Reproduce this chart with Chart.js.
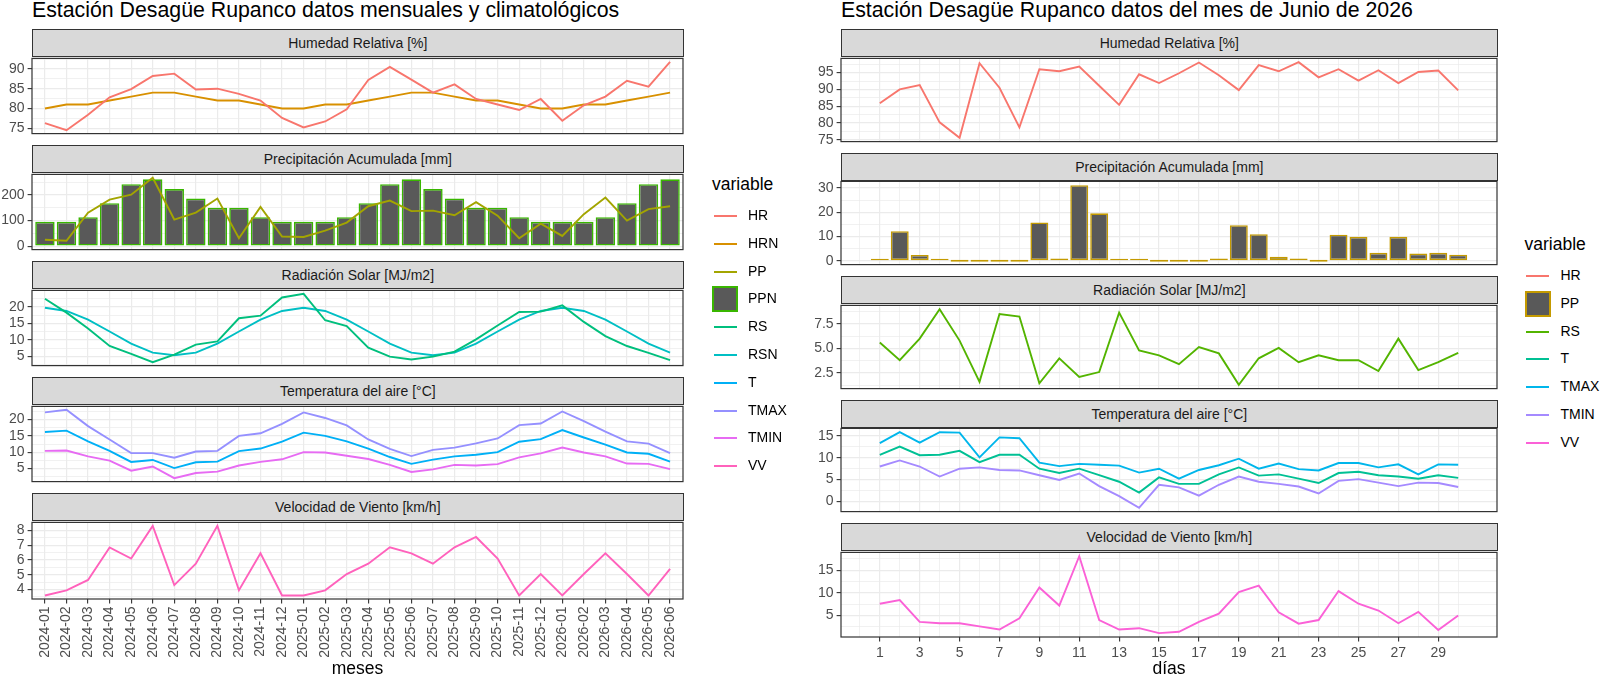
<!DOCTYPE html>
<html><head><meta charset="utf-8">
<script src="https://cdn.jsdelivr.net/npm/chart.js@4/dist/chart.umd.min.js"></script>
<style>
html,body{margin:0;padding:0;background:#fff;}
body{width:1600px;height:676px;overflow:hidden;position:relative;font-family:"Liberation Sans",Arial,Helvetica,sans-serif;}
canvas{position:absolute;}
.strip{position:absolute;background:#D9D9D9;border:1.2px solid #333;box-sizing:border-box;color:#1A1A1A;font-size:14px;display:flex;align-items:center;justify-content:center;z-index:2;white-space:nowrap;}
.txt{position:absolute;white-space:nowrap;z-index:3;}
.key{position:absolute;z-index:3;}
</style></head>
<body>
<script>
// ---------------- DATA ----------------
const meses = ['2024-01','2024-02','2024-03','2024-04','2024-05','2024-06','2024-07','2024-08','2024-09','2024-10','2024-11','2024-12',
               '2025-01','2025-02','2025-03','2025-04','2025-05','2025-06','2025-07','2025-08','2025-09','2025-10','2025-11','2025-12',
               '2026-01','2026-02','2026-03','2026-04','2026-05','2026-06'];
const HR_m   = [76.3,74.5,78.4,82.8,84.9,88.2,88.8,84.8,85.0,83.7,82.0,77.6,75.2,76.7,79.8,87.2,90.5,87.3,84.0,86.1,82.4,81.0,79.6,82.4,76.9,80.8,83.0,87.0,85.5,91.8];
const HRN_m  = [80,81,81,82,83,84,84,83,82,82,81,80,80,81,81,82,83,84,84,83,82,82,81,80,80,81,81,82,83,84];
const PP_m   = [25,21,131,182,201,267,104,131,186,31,153,38,36,61,92,156,178,137,139,121,172,119,31,88,40,125,190,100,145,156];
const PPN_m  = [95,95,113,168,242,261,223,186,150,150,113,95,95,95,113,168,242,261,223,186,150,150,113,95,95,95,113,168,242,261];
const RS_m   = [22.5,18.3,13.5,8.2,5.8,3.3,5.6,8.6,9.6,16.6,17.4,22.9,24.0,16.0,14.2,7.7,5.0,4.1,5.0,6.5,10.2,14.4,18.5,18.6,20.5,15.5,11.2,8.2,6.1,3.9];
const RSN_m  = [19.8,18.8,16.2,12.6,8.9,6.2,5.4,6.2,8.9,12.6,16.2,18.8,19.8,18.8,16.2,12.6,8.9,6.2,5.4,6.2,8.9,12.6,16.2,18.8,19.8,18.8,16.2,12.6,8.9,6.2];
const T_m    = [16.2,16.6,13.3,10.4,7.0,7.6,5.1,6.9,7.1,10.3,11.1,13.2,16.0,15.0,13.3,11.1,8.5,6.4,7.7,8.7,9.2,10.0,13.2,14.0,16.8,14.5,12.3,9.9,9.5,7.1];
const TMAX_m = [22.2,23.0,18.0,13.9,9.7,9.7,8.3,10.2,10.4,15.0,15.8,18.7,22.2,20.5,18.2,13.9,11.0,8.8,10.7,11.4,12.7,14.2,18.3,18.8,22.5,19.5,16.3,13.3,12.6,9.7];
const TMIN_m = [10.4,10.5,8.7,7.4,4.3,5.6,2.0,3.6,4.0,5.9,7.0,7.8,10.0,9.9,8.9,7.9,6.1,3.9,4.7,6.1,5.9,6.3,8.4,9.6,11.4,9.9,8.7,6.5,6.4,4.8];
const VV_m   = [3.6,3.95,4.65,6.85,6.1,8.3,4.3,5.75,8.3,3.95,6.45,3.6,3.6,3.95,5.05,5.75,6.85,6.45,5.75,6.85,7.55,6.1,3.6,5.05,3.6,5.05,6.45,5.05,3.6,5.4];

const dias   = [1,2,3,4,5,6,7,8,9,10,11,12,13,14,15,16,17,18,19,20,21,22,23,24,25,26,27,28,29,30];
const diasTicks = [1,3,5,7,9,11,13,15,17,19,21,23,25,27,29];
const HR_d   = [85.9,90.0,91.3,80.2,75.6,97.8,90.5,78.7,96.0,95.4,96.8,91.1,85.4,94.5,91.9,94.8,98.0,94.2,89.8,97.2,95.4,98.1,93.6,96.0,92.6,95.7,91.9,95.2,95.6,89.7];
const PP_d   = [0.9,12.2,2.4,0.3,0,0,0,0,15.8,1.0,31.2,19.6,0.1,0.1,0,0,0,1.0,14.7,11.0,1.7,1.0,0,10.8,9.9,3.3,9.9,3.0,3.3,2.5];
const RS_d   = [5.6,3.8,6.0,9.0,5.8,1.6,8.5,8.25,1.45,4.0,2.1,2.6,8.65,4.8,4.3,3.4,5.15,4.5,1.3,4.0,5.05,3.6,4.3,3.8,3.8,2.7,6.0,2.8,3.6,4.55];
const T_d    = [10.7,12.6,10.6,10.7,11.6,9.0,10.7,10.7,7.5,6.5,7.5,6.0,4.5,2.0,5.5,4.0,4.0,6.2,7.8,5.9,6.2,5.2,4.2,6.5,6.8,6.0,5.7,5.2,6.0,5.4];
const TMAX_d = [13.4,15.9,13.5,15.9,15.8,10.1,14.7,14.5,8.9,8.1,8.6,8.4,8.2,6.6,7.5,5.2,7.2,8.3,9.8,7.5,8.7,7.4,7.1,8.8,8.8,7.8,8.5,6.2,8.5,8.4];
const TMIN_d = [8.0,9.4,8.0,5.7,7.5,7.8,7.2,7.1,6.0,4.9,6.4,3.5,1.2,-1.5,3.8,3.2,1.3,3.8,5.7,4.5,4.0,3.4,1.8,4.7,5.1,4.3,3.5,4.3,4.2,3.3];
const VV_d   = [7.6,8.4,3.6,3.3,3.3,2.6,1.9,4.4,11.2,7.2,18.1,4.0,1.9,2.2,1.1,1.4,3.6,5.4,10.2,11.6,5.7,3.2,4.0,10.4,7.6,6.1,3.3,5.8,1.8,5.0];

// y axis major tick labels per facet
const yTicksL = [[75,80,85,90],[0,100,200],[5,10,15,20],[5,10,15,20],[4,5,6,7,8]];
const yTicksR = [[75,80,85,90,95],[0,10,20,30],[2.5,5.0,7.5],[0,5,10,15],[5,10,15]];

const facetTitles = ['Humedad Relativa [%]','Precipitación Acumulada [mm]','Radiación Solar [MJ/m2]','Temperatura del aire [°C]','Velocidad de Viento [km/h]'];

// ---------------- STYLE ----------------
const colL = {HR:'#F8766D',HRN:'#D89000',PP:'#A3A500',PPN:'#39B600',RS:'#00BF7D',RSN:'#00BFC4',T:'#00B0F6',TMAX:'#9590FF',TMIN:'#E76BF3',VV:'#FF62BC'};
const colR = {HR:'#F8766D',PP:'#C49A00',RS:'#53B400',T:'#00C094',TMAX:'#00B6EB',TMIN:'#A58AFF',VV:'#FB61D7'};
const FONT = "'Liberation Sans', Arial, Helvetica, sans-serif";
Chart.defaults.font.family = FONT;
Chart.defaults.font.size = 14;
Chart.defaults.color = '#4D4D4D';

const LEFT  = {x0:32, x1:683, cx:0,   strips:[29,145,261,377,493], stripH:27.5, panelH:78.5, axisH:72, xMin:0.4, xMax:30.6};
const RIGHT = {x0:841,x1:1497,cx:785, strips:[29,152.6,276.2,399.8,523.4], stripH:27.5, panelH:86.1, axisH:30, xMin:-0.945, xMax:31.945};

const panelBorder = {id:'panelBorder', afterDraw(chart){
  const a = chart.chartArea, ctx = chart.ctx;
  ctx.save(); ctx.strokeStyle = '#333333'; ctx.lineWidth = 1.2;
  ctx.strokeRect(a.left, a.top, a.right - a.left, a.bottom - a.top); ctx.restore();
}};

function yRange(series, withZero){
  let mn = Infinity, mx = -Infinity;
  series.forEach(s => s.forEach(v => { mn = Math.min(mn, v); mx = Math.max(mx, v); }));
  if (withZero) { mn = Math.min(mn, 0); mx = Math.max(mx, 0); }
  const e = (mx - mn) * 0.05;
  return [mn - e, mx + e];
}
function yTickList(majors, mn, mx){
  const step = majors[1] - majors[0];
  const out = majors.map(v => ({value:v, minor:false}));
  const ext = [majors[0] - step, ...majors, majors[majors.length-1] + step];
  for (let i = 0; i < ext.length - 1; i++) out.push({value:(ext[i] + ext[i+1]) / 2, minor:true});
  return out.filter(t => t.value >= mn && t.value <= mx).sort((a,b) => a.value - b.value);
}

function makeFacet(S, idx, datasets, majors, withZero, xTicks, decimals){
  const bottom = idx === 4;
  const top = S.strips[idx] + S.stripH, h = S.panelH;
  const padL = S.x0 - S.cx, padR = 14, padT = 10, padB = bottom ? 0 : 10;
  const axisH = bottom ? S.axisH : 0;
  const cw = (S.x1 - S.x0) + padL + padR, ch = h + padT + padB + axisH;
  const cv = document.createElement('canvas');
  cv.width = cw; cv.height = ch;
  cv.style.left = S.cx + 'px'; cv.style.top = (top - padT) + 'px';
  cv.style.width = cw + 'px'; cv.style.height = ch + 'px';
  document.body.appendChild(cv);
  const [mn, mx] = yRange(datasets.map(d => d.values), withZero);
  const yt = yTickList(majors, mn, mx);
  const isLeft = S === LEFT;
  const ds = datasets.map(d => {
    const data = d.values.map((v, i) => ({x: d.xs[i], y: v}));
    if (d.type === 'bar') return {type:'bar', label:d.label, data, backgroundColor:'#595959', borderColor:d.color,
      borderWidth:1.6, borderSkipped:false, barPercentage:0.9, categoryPercentage:1.0, minBarLength: isLeft ? 0 : 2, order:2};
    return {type:'line', label:d.label, data, borderColor:d.color, borderWidth:1.9, pointRadius:0, tension:0, fill:false, order:1};
  });
  const gridMinor = ctx => ctx.tick && ctx.tick.minor;
  new Chart(cv, {
    type:'bar',
    data:{datasets:ds},
    options:{
      responsive:false, animation:false, events:[],
      layout:{padding:{left:0, right:padR, top:padT, bottom:padB}},
      plugins:{legend:{display:false}, tooltip:{enabled:false}},
      scales:{
        x:{type:'linear', min:S.xMin, max:S.xMax, offset:false,
           afterBuildTicks: s => { s.ticks = xTicks.map(t => ({value:t.value, minor:t.minor, text:t.text})); },
           afterFit: s => { s.height = axisH; },
           border:{display:false},
           grid:{offset:false, drawTicks:bottom, tickLength:4.4, tickWidth:1.1,
                 tickColor: ctx => gridMinor(ctx) ? 'rgba(0,0,0,0)' : '#333333',
                 color:'#EBEBEB', lineWidth: ctx => gridMinor(ctx) ? 0.7 : 1.2},
           ticks:{display:bottom, autoSkip:false, padding:3, color:'#4D4D4D', font:{size:14, family:FONT},
                  minRotation: isLeft ? 90 : 0, maxRotation: isLeft ? 90 : 0, includeBounds:false,
                  callback:(v, i, ticks) => (ticks[i] && ticks[i].text) ? ticks[i].text : ''}
        },
        y:{type:'linear', min:mn, max:mx, beginAtZero:false,
           afterBuildTicks: s => { s.ticks = yt.map(t => ({value:t.value, minor:t.minor})); },
           afterFit: s => { s.width = padL; },
           border:{display:false},
           grid:{drawTicks:true, tickLength:4.4, tickWidth:1.1,
                 tickColor: ctx => gridMinor(ctx) ? 'rgba(0,0,0,0)' : '#333333',
                 color:'#EBEBEB', lineWidth: ctx => gridMinor(ctx) ? 0.7 : 1.2},
           ticks:{autoSkip:false, padding:3, color:'#4D4D4D', font:{size:14, family:FONT}, includeBounds:false,
                  callback:(v, i, ticks) => (ticks[i] && ticks[i].minor) ? '' : (decimals ? v.toFixed(decimals) : String(v))}
        }
      }
    },
    plugins:[panelBorder]
  });
  // strip
  const st = document.createElement('div');
  st.className = 'strip';
  st.style.left = S.x0 + 'px'; st.style.top = S.strips[idx] + 'px';
  st.style.width = (S.x1 - S.x0 + 0.6) + 'px'; st.style.height = (S.stripH + 0.6) + 'px';
  st.textContent = facetTitles[idx];
  document.body.appendChild(st);
}

function addText(txt, x, top, size, opts){
  const d = document.createElement('div');
  d.className = 'txt'; d.textContent = txt;
  d.style.fontSize = size + 'px'; d.style.lineHeight = (opts && opts.lh ? opts.lh : size) + 'px';
  d.style.top = top + 'px'; d.style.color = (opts && opts.color) || '#000';
  if (opts && opts.center) { d.style.left = x + 'px'; d.style.transform = 'translateX(-50%)'; }
  else d.style.left = x + 'px';
  document.body.appendChild(d);
}

// ---------------- LEFT PLOT ----------------
const xm = meses.map((m, i) => i + 1);
const xTicksL = meses.map((m, i) => ({value:i + 1, minor:false, text:m}));
const xTicksR = [];
for (let d = 0; d <= 30; d++) xTicksR.push({value:d, minor: !diasTicks.includes(d), text: diasTicks.includes(d) ? String(d) : ''});

makeFacet(LEFT, 0, [{label:'HR', type:'line', values:HR_m, xs:xm, color:colL.HR},{label:'HRN', type:'line', values:HRN_m, xs:xm, color:colL.HRN}], yTicksL[0], false, xTicksL, 0);
makeFacet(LEFT, 1, [{label:'PPN', type:'bar', values:PPN_m, xs:xm, color:colL.PPN},{label:'PP', type:'line', values:PP_m, xs:xm, color:colL.PP}], yTicksL[1], true, xTicksL, 0);
makeFacet(LEFT, 2, [{label:'RS', type:'line', values:RS_m, xs:xm, color:colL.RS},{label:'RSN', type:'line', values:RSN_m, xs:xm, color:colL.RSN}], yTicksL[2], false, xTicksL, 0);
makeFacet(LEFT, 3, [{label:'T', type:'line', values:T_m, xs:xm, color:colL.T},{label:'TMAX', type:'line', values:TMAX_m, xs:xm, color:colL.TMAX},{label:'TMIN', type:'line', values:TMIN_m, xs:xm, color:colL.TMIN}], yTicksL[3], false, xTicksL, 0);
makeFacet(LEFT, 4, [{label:'VV', type:'line', values:VV_m, xs:xm, color:colL.VV}], yTicksL[4], false, xTicksL, 0);

// ---------------- RIGHT PLOT ----------------
makeFacet(RIGHT, 0, [{label:'HR', type:'line', values:HR_d, xs:dias, color:colR.HR}], yTicksR[0], false, xTicksR, 0);
makeFacet(RIGHT, 1, [{label:'PP', type:'bar', values:PP_d, xs:dias, color:colR.PP}], yTicksR[1], true, xTicksR, 0);
makeFacet(RIGHT, 2, [{label:'RS', type:'line', values:RS_d, xs:dias, color:colR.RS}], yTicksR[2], false, xTicksR, 1);
makeFacet(RIGHT, 3, [{label:'T', type:'line', values:T_d, xs:dias, color:colR.T},{label:'TMAX', type:'line', values:TMAX_d, xs:dias, color:colR.TMAX},{label:'TMIN', type:'line', values:TMIN_d, xs:dias, color:colR.TMIN}], yTicksR[3], false, xTicksR, 0);
makeFacet(RIGHT, 4, [{label:'VV', type:'line', values:VV_d, xs:dias, color:colR.VV}], yTicksR[4], false, xTicksR, 0);

// ---------------- TITLES ----------------
addText('Estación Desagüe Rupanco datos mensuales y climatológicos', 32, -0.5, 21.3, {lh:21.3});
addText('Estación Desagüe Rupanco datos del mes de Junio de 2026', 841, -0.5, 21.3, {lh:21.3});
addText('meses', (LEFT.x0 + LEFT.x1) / 2, 660, 17.5, {center:true});
addText('días', (RIGHT.x0 + RIGHT.x1) / 2, 660, 17.5, {center:true});

// ---------------- LEGENDS ----------------
function legend(keys, cols, barKey, x, titleTop, firstC){
  addText('variable', x, titleTop, 17.5, {});
  keys.forEach((k, i) => {
    const c = Math.round(firstC + i * 27.8);
    const kd = document.createElement('div');
    kd.className = 'key';
    if (k === barKey) {
      kd.style.left = Math.round(x) + 'px'; kd.style.top = (c - 13) + 'px';
      kd.style.width = '26px'; kd.style.height = '26px'; kd.style.boxSizing = 'border-box';
      kd.style.background = '#595959'; kd.style.border = '2px solid ' + cols[k];
    } else {
      kd.style.left = Math.round(x + 1.5) + 'px'; kd.style.top = (c - 1) + 'px';
      kd.style.width = '23px'; kd.style.height = '2px'; kd.style.background = cols[k];
    }
    document.body.appendChild(kd);
    addText(k, x + 36, c - 13.9, 14, {lh:27.8, color:'#000'});
  });
}
legend(['HR','HRN','PP','PPN','RS','RSN','T','TMAX','TMIN','VV'], colL, 'PPN', 712, 175.7, 216);
legend(['HR','PP','RS','T','TMAX','TMIN','VV'], colR, 'PP', 1524.5, 235.7, 276);
</script>
</body></html>
